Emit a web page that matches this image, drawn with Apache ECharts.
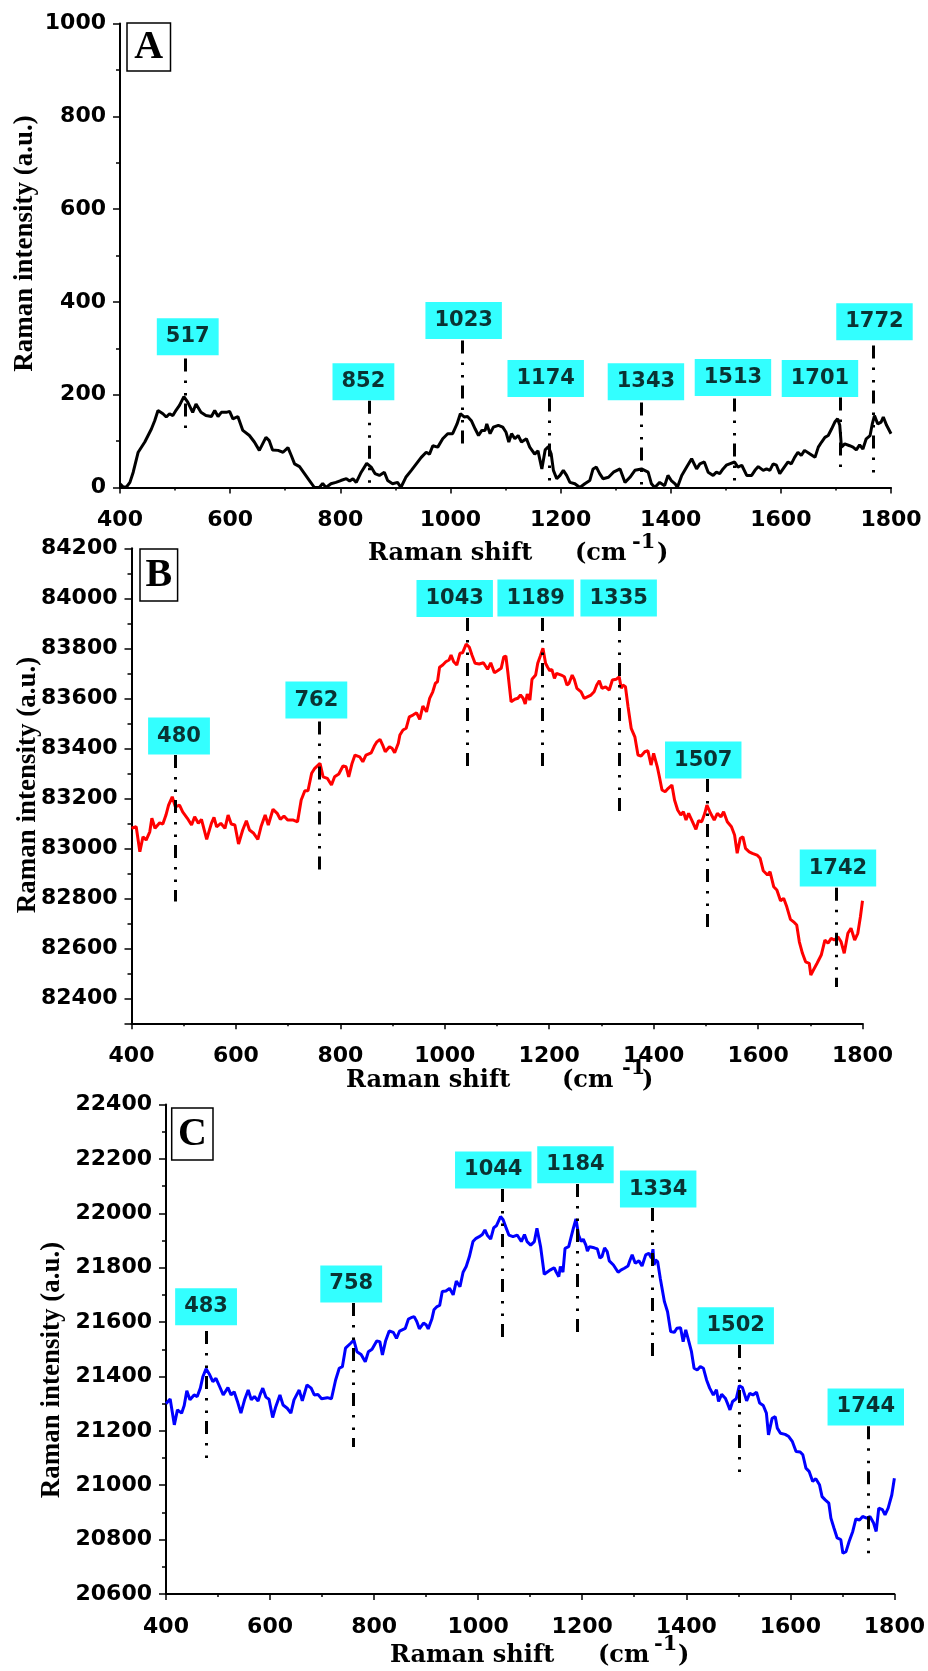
<!DOCTYPE html>
<html><head><meta charset="utf-8">
<script src="https://cdn.jsdelivr.net/npm/echarts@6/dist/echarts.min.js"></script>
<style>html,body{margin:0;padding:0;background:#fff}#c{width:928px;height:1671px}</style>
</head><body><div id="c"></div><script>
// ---------- Panel A (black) ----------
const spectrumA = [[400,8],[405,2],[411,0],[418,11],[424,33],[433,76],[445,98],[457,126],[463,144],[469,166],[478,159],[484,152],[490,159],[496,155],[502,167],[508,177],[516,196],[523,184],[532,162],[538,180],[547,162],[556,155],[566,153],[572,166],[578,153],[584,162],[593,162],[599,164],[605,148],[614,153],[623,123],[635,112],[644,98],[653,80],[659,94],[665,108],[671,101],[677,81],[687,80],[696,76],[705,86],[711,69],[717,51],[726,45],[735,30],[744,15],[753,0],[762,0],[768,9],[774,0],[783,8],[792,11],[801,15],[811,19],[817,14],[823,19],[829,11],[838,33],[848,52],[856,44],[863,30],[871,26],[880,33],[886,15],[895,8],[904,11],[910,0],[919,22],[929,37],[938,51],[947,65],[956,76],[962,72],[968,90],[977,87],[986,105],[995,116],[1004,116],[1012,137],[1018,159],[1025,152],[1031,153],[1038,144],[1045,126],[1051,112],[1057,123],[1063,123],[1066,137],[1072,116],[1078,130],[1087,134],[1095,130],[1101,119],[1106,98],[1111,116],[1117,105],[1123,112],[1129,98],[1138,105],[1144,87],[1153,72],[1159,79],[1166,40],[1172,81],[1178,88],[1183,72],[1187,37],[1193,19],[1199,26],[1205,37],[1211,26],[1217,11],[1226,8],[1235,0],[1244,8],[1253,15],[1259,40],[1265,44],[1271,30],[1277,19],[1287,22],[1296,33],[1308,40],[1317,11],[1326,22],[1335,37],[1347,40],[1359,33],[1365,8],[1371,0],[1380,11],[1389,4],[1395,26],[1401,15],[1408,8],[1412,0],[1420,26],[1429,44],[1438,62],[1447,40],[1453,51],[1461,55],[1468,33],[1477,26],[1483,33],[1489,30],[1495,40],[1501,48],[1507,51],[1516,55],[1522,44],[1529,48],[1538,26],[1547,26],[1553,37],[1559,45],[1568,37],[1574,40],[1580,37],[1586,51],[1592,48],[1598,30],[1604,40],[1613,55],[1619,51],[1625,65],[1631,76],[1637,69],[1643,80],[1653,72],[1662,65],[1668,87],[1674,98],[1680,108],[1686,112],[1692,126],[1698,141],[1703,148],[1707,134],[1710,87],[1716,94],[1725,90],[1731,87],[1737,81],[1743,92],[1749,83],[1755,105],[1762,112],[1766,137],[1770,155],[1776,137],[1782,141],[1786,152],[1792,134],[1800,116]];
const peakTextA   = ['517','852','1023','1174','1343','1513','1701','1772'];
const peakLineXA  = [519,853,1021,1180,1346,1515,1707,1768];
const peakTopA    = [278,187,317,192,183,192,194,306];
const peakBottomA = [123,9,91,11,4,11,30,26];
const boxXA       = [523,842,1024,1173,1355,1513,1671,1770];
const boxYA       = [325,228,360,235,228,237,235,357];

// ---------- Panel B (red) ----------
const spectrumB = [[400,83080],[403,83073],[409,83086],[416,82986],[422,83046],[428,83033],[435,83066],[439,83120],[445,83080],[454,83102],[460,83097],[466,83133],[471,83173],[478,83206],[484,83166],[492,83173],[498,83146],[507,83120],[515,83093],[521,83126],[528,83100],[534,83116],[544,83036],[553,83100],[558,83124],[563,83086],[571,83100],[579,83080],[585,83133],[591,83097],[598,83093],[605,83017],[613,83073],[620,83110],[626,83073],[634,83060],[642,83036],[648,83086],[656,83133],[662,83093],[671,83156],[679,83140],[685,83116],[692,83129],[699,83113],[710,83113],[718,83106],[725,83193],[732,83230],[738,83230],[745,83300],[751,83320],[761,83340],[767,83286],[775,83280],[783,83253],[789,83286],[797,83297],[805,83329],[811,83326],[816,83286],[822,83337],[828,83373],[837,83366],[843,83346],[849,83373],[859,83382],[865,83409],[870,83426],[876,83436],[881,83413],[886,83386],[894,83406],[899,83400],[904,83382],[911,83420],[914,83453],[920,83473],[926,83480],[932,83526],[939,83533],[946,83542],[952,83516],[958,83569],[965,83546],[971,83600],[977,83626],[982,83660],[986,83666],[990,83724],[996,83733],[1002,83746],[1008,83753],[1012,83773],[1017,83746],[1023,83733],[1029,83780],[1034,83782],[1041,83817],[1047,83804],[1052,83773],[1058,83740],[1066,83737],[1074,83742],[1082,83716],[1088,83742],[1095,83702],[1101,83710],[1108,83720],[1113,83766],[1117,83769],[1121,83700],[1127,83586],[1134,83596],[1140,83600],[1145,83613],[1150,83600],[1154,83577],[1158,83617],[1163,83593],[1167,83676],[1174,83693],[1178,83740],[1183,83769],[1188,83800],[1193,83740],[1197,83724],[1201,83710],[1205,83716],[1210,83680],[1214,83700],[1223,83693],[1229,83686],[1234,83653],[1238,83660],[1244,83693],[1248,83676],[1253,83640],[1261,83626],[1267,83600],[1273,83606],[1280,83613],[1286,83626],[1291,83653],[1296,83670],[1301,83640],[1308,83646],[1315,83633],[1321,83673],[1328,83676],[1334,83686],[1338,83640],[1341,83653],[1346,83646],[1351,83566],[1357,83480],[1364,83446],[1370,83373],[1376,83369],[1383,83386],[1389,83390],[1395,83333],[1400,83380],[1407,83326],[1411,83286],[1416,83233],[1422,83226],[1428,83240],[1435,83253],[1440,83193],[1446,83153],[1452,83133],[1457,83146],[1462,83113],[1467,83140],[1473,83113],[1481,83076],[1486,83110],[1492,83106],[1498,83140],[1502,83173],[1509,83140],[1516,83113],[1522,83140],[1529,83126],[1534,83146],[1541,83106],[1549,83086],[1555,83053],[1560,82980],[1566,83040],[1571,83046],[1576,83000],[1583,82986],[1589,82980],[1598,82973],[1604,82960],[1610,82910],[1618,82893],[1623,82906],[1630,82846],[1636,82833],[1643,82790],[1649,82800],[1655,82766],[1662,82716],[1668,82706],[1674,82693],[1679,82626],[1685,82580],[1691,82546],[1698,82540],[1701,82493],[1706,82513],[1713,82540],[1721,82573],[1728,82633],[1734,82620],[1740,82640],[1746,82633],[1753,82646],[1759,82626],[1765,82580],[1772,82660],[1778,82680],[1785,82633],[1791,82660],[1796,82726],[1800,82790]];
const peakTextB   = ['480','762','1043','1189','1335','1507','1742'];
const peakLineXB  = [483,759,1043,1186,1334,1502,1750];
const peakTopB    = [83373,83507,83921,83921,83921,83277,82842];
const peakBottomB = [82787,82907,83313,83309,83133,82685,82445];
const boxXB       = [491,754,1019,1174,1333,1495,1753];
const boxYB       = [83449,83593,83999,84001,84001,83353,82921];

// ---------- Panel C (blue) ----------
const spectrumC = [[400,21300],[403,21301],[408,21317],[416,21222],[422,21277],[430,21265],[435,21293],[440,21347],[446,21314],[454,21332],[460,21326],[466,21357],[471,21400],[477,21428],[484,21406],[490,21381],[496,21393],[503,21363],[510,21332],[519,21359],[525,21332],[531,21344],[537,21310],[544,21265],[551,21314],[558,21350],[564,21314],[570,21326],[577,21310],[581,21334],[586,21357],[592,21324],[598,21316],[605,21249],[611,21289],[619,21332],[625,21295],[633,21283],[640,21265],[646,21314],[656,21350],[662,21310],[671,21369],[679,21357],[685,21332],[692,21334],[699,21318],[710,21322],[718,21318],[726,21387],[733,21430],[739,21436],[745,21504],[755,21522],[761,21534],[767,21491],[775,21481],[783,21454],[789,21491],[796,21500],[805,21530],[811,21528],[816,21479],[822,21530],[829,21567],[837,21562],[843,21540],[849,21567],[860,21577],[866,21611],[871,21616],[877,21620],[882,21602],[887,21575],[895,21596],[900,21590],[904,21575],[911,21611],[915,21645],[921,21657],[926,21661],[931,21712],[938,21714],[945,21724],[952,21700],[958,21751],[965,21730],[971,21783],[977,21804],[983,21840],[990,21896],[996,21908],[1002,21914],[1008,21922],[1013,21939],[1018,21918],[1024,21905],[1030,21947],[1035,21954],[1043,21988],[1048,21976],[1053,21950],[1059,21920],[1067,21914],[1075,21920],[1083,21896],[1089,21922],[1094,21896],[1101,21883],[1108,21896],[1113,21945],[1116,21947],[1120,21877],[1127,21776],[1133,21784],[1139,21792],[1146,21800],[1150,21784],[1155,21767],[1158,21804],[1163,21784],[1167,21871],[1174,21877],[1178,21908],[1183,21945],[1188,21979],[1193,21920],[1198,21896],[1202,21905],[1207,21883],[1210,21861],[1214,21877],[1223,21873],[1229,21869],[1234,21835],[1238,21841],[1243,21873],[1248,21859],[1252,21825],[1260,21810],[1269,21783],[1275,21792],[1281,21798],[1288,21806],[1292,21828],[1296,21847],[1302,21816],[1309,21825],[1315,21806],[1322,21847],[1328,21853],[1333,21835],[1336,21868],[1338,21810],[1341,21828],[1345,21822],[1350,21761],[1358,21675],[1364,21638],[1370,21565],[1377,21562],[1382,21577],[1389,21579],[1394,21528],[1399,21571],[1405,21528],[1410,21491],[1415,21430],[1421,21424],[1427,21436],[1433,21430],[1439,21387],[1445,21357],[1452,21332],[1458,21351],[1462,21308],[1468,21334],[1475,21320],[1479,21302],[1484,21277],[1489,21308],[1496,21318],[1502,21366],[1508,21359],[1516,21310],[1522,21338],[1528,21332],[1535,21342],[1541,21302],[1548,21293],[1554,21265],[1558,21185],[1565,21246],[1571,21252],[1575,21210],[1581,21191],[1590,21187],[1597,21179],[1604,21160],[1611,21124],[1619,21122],[1624,21112],[1630,21063],[1636,21051],[1643,21014],[1649,21024],[1656,21002],[1661,20958],[1667,20946],[1674,20934],[1678,20879],[1684,20842],[1690,20806],[1697,20800],[1701,20750],[1707,20756],[1713,20793],[1720,20830],[1726,20876],[1733,20872],[1739,20885],[1747,20879],[1753,20885],[1760,20861],[1765,20830],[1770,20916],[1777,20910],[1782,20891],[1788,20916],[1795,20964],[1800,21026]];
const peakTextC   = ['483','758','1044','1184','1334','1502','1744'];
const peakLineXC  = [477,759,1047,1190,1334,1501,1749];
const peakTopC    = [21567,21670,22089,22108,22019,21516,21217];
const peakBottomC = [21093,21141,21527,21534,21457,21020,20736];
const boxXC       = [477,756,1029,1187,1346,1495,1745];
const boxYC       = [21656,21740,22159,22178,22089,21586,21288];

const panelLetters = ['A','B','C'];
const xRange = [400, 1800];

// ---------- build ----------
const chart = echarts.init(document.getElementById('c'), null, {renderer: 'canvas'});
const tickFont = {fontFamily: 'DejaVu Sans', fontWeight: 'bold', fontSize: 22, color: '#000'};
const axLine = {show: true, onZero: false, lineStyle: {color: '#000', width: 2}};
const tickLS = {color: '#000', width: 1.5};

function mkX(g) {
  return {type: 'value', gridIndex: g, min: xRange[0], max: xRange[1], interval: 200,
    axisLine: axLine, axisTick: {show: true, length: 6, lineStyle: tickLS},
    minorTick: {show: true, splitNumber: 2, length: 3, lineStyle: tickLS},
    splitLine: {show: false}, minorSplitLine: {show: false},
    axisLabel: Object.assign({margin: 22, formatter: v => String(v)}, tickFont)};
}
function mkY(g, min, max, interval, extra) {
  return Object.assign({type: 'value', gridIndex: g, min: min, max: max, interval: interval,
    axisLine: axLine, axisTick: {show: true, length: 7, lineStyle: tickLS},
    minorTick: {show: true, splitNumber: 2, length: 4, lineStyle: tickLS},
    splitLine: {show: false}, minorSplitLine: {show: false},
    axisLabel: Object.assign({margin: 14, formatter: v => String(v)}, tickFont)}, extra || {});
}

const dash = [13, 9, 2.5, 10, 2.5, 8];
function markLines(xs, tops, bottoms) {
  return {silent: true, symbol: ['none', 'none'], animation: false,
    label: {show: false},
    lineStyle: {color: '#000', width: 3, type: dash},
    data: xs.map((x, i) => [{coord: [x, tops[i]]}, {coord: [x, bottoms[i]]}])};
}
function boxSeries(xi, yi, xs, ys, texts) {
  return {type: 'scatter', xAxisIndex: xi, yAxisIndex: yi, z: 10, symbolSize: 1,
    itemStyle: {color: 'rgba(0,0,0,0)'}, silent: true,
    data: xs.map((x, i) => [x, ys[i], texts[i]]),
    label: {show: true, position: 'inside', formatter: p => p.value[2],
      backgroundColor: '#00ffff', padding: [8, 9, 8, 9], lineHeight: 21,
      fontFamily: 'DejaVu Sans', fontWeight: 'bold', fontSize: 21, color: '#000'}};
}

function txt(x, y, s, font, align, rot) {
  const el = {type: 'text', x: x, y: y, z: 100,
    style: {text: s, font: font, fill: '#000', textAlign: align || 'left', textVerticalAlign: 'middle',
      align: align || 'left', verticalAlign: 'middle'}};
  if (rot) el.rotation = rot;
  return el;
}
const titleFont = 'bold 24px "DejaVu Serif"';
const supFont = 'bold 21px "DejaVu Serif"';
const yTitleFont = 'bold 27px "Liberation Serif"';
function xTitle(l1, l2, l3, l4, y, ys) {
  return [txt(l1, y, 'Raman shift', titleFont), txt(l2, y, '(cm', titleFont),
          txt(l3, ys, '-1', supFont), txt(l4, y, ')', titleFont)];
}
function letterBox(x, y, w, h, letter) {
  return [{type: 'rect', z: 50, shape: {x: x, y: y, width: w, height: h},
           style: {fill: '#fff', stroke: '#000', lineWidth: 1.5}},
          txt(x + w / 2, y + h / 2 + 1, letter, 'bold 40px "Liberation Serif"', 'center')];
}

const graphic = [].concat(
  xTitle(368, 575, 632, 657, 554, 543),
  xTitle(346, 562, 622, 642, 1081, 1069),
  xTitle(390, 598, 654, 678, 1656, 1645),
  [txt(25, 243.5, 'Raman intensity (a.u.)', yTitleFont, 'center', Math.PI / 2),
   txt(28, 785, 'Raman intensity (a.u.)', yTitleFont, 'center', Math.PI / 2),
   txt(52, 1370, 'Raman intensity (a.u.)', yTitleFont, 'center', Math.PI / 2)],
  letterBox(127, 23, 43.5, 48, panelLetters[0]),
  letterBox(140, 549, 37.6, 52, panelLetters[1]),
  letterBox(171.7, 1108, 41.3, 52, panelLetters[2])
);

const option = {
  animation: false,
  backgroundColor: '#fff',
  grid: [
    {left: 120, top: 23.5, width: 771, height: 464},
    {left: 131.5, top: 548.3, width: 731, height: 475},
    {left: 166, top: 1104.5, width: 733, height: 489.5}
  ],
  xAxis: [mkX(0), mkX(1), mkX(2)],
  yAxis: [
    mkY(0, 0, 1000, 200),
    mkY(1, 82300, 84200, null, {splitNumber: 10, minorTick: {show: false},
      axisLabel: Object.assign({margin: 14, formatter: v => (v % 200 === 0 ? String(v) : '')}, tickFont)}),
    {type: 'value', gridIndex: 1, min: 82300, max: 84200, interval: 100, position: 'left',
      axisLine: {show: false}, axisLabel: {show: false}, splitLine: {show: false},
      axisTick: {show: true, length: 4, lineStyle: tickLS}},
    mkY(2, 20600, 22400, 200)
  ],
  series: [
    {type: 'line', xAxisIndex: 0, yAxisIndex: 0, data: spectrumA, symbol: 'none', showSymbol: false,
     lineStyle: {color: '#000', width: 3}, z: 3, markLine: markLines(peakLineXA, peakTopA, peakBottomA)},
    {type: 'line', xAxisIndex: 1, yAxisIndex: 1, data: spectrumB, symbol: 'none', showSymbol: false,
     lineStyle: {color: '#ff0000', width: 3}, z: 3, markLine: markLines(peakLineXB, peakTopB, peakBottomB)},
    {type: 'line', xAxisIndex: 2, yAxisIndex: 3, data: spectrumC, symbol: 'none', showSymbol: false,
     lineStyle: {color: '#0000ff', width: 3}, z: 3, markLine: markLines(peakLineXC, peakTopC, peakBottomC)},
    boxSeries(0, 0, boxXA, boxYA, peakTextA),
    boxSeries(1, 1, boxXB, boxYB, peakTextB),
    boxSeries(2, 3, boxXC, boxYC, peakTextC)
  ],
  graphic: graphic
};
chart.setOption(option);
</script></body></html>
